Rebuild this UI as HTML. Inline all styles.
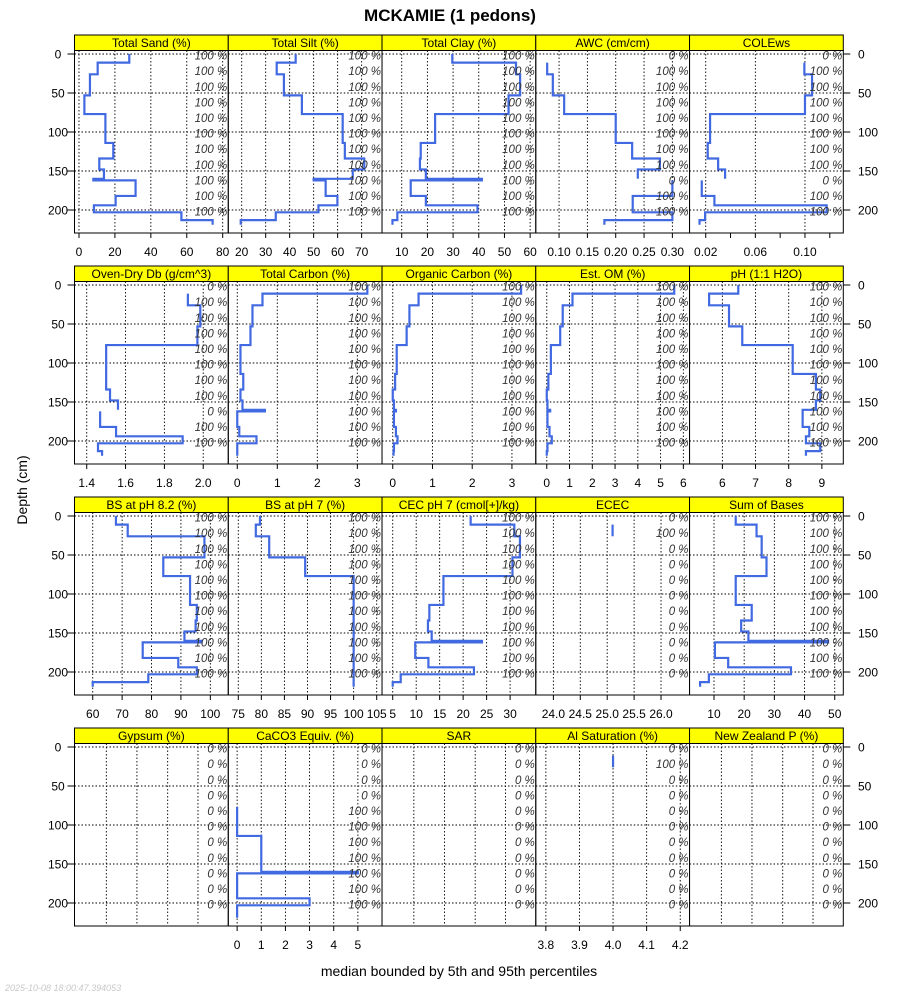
<!DOCTYPE html>
<html><head><meta charset="utf-8"><title>MCKAMIE (1 pedons)</title>
<style>
html,body{margin:0;padding:0;background:#fff;}
svg{display:block;font-family:"Liberation Sans",Arial,sans-serif;}
</style></head>
<body>
<svg id="chart" width="900" height="1000" viewBox="0 0 900 1000" xmlns="http://www.w3.org/2000/svg">
<rect x="0" y="0" width="900" height="1000" fill="#fff"/>
<text x="450" y="21" text-anchor="middle" font-size="17" font-weight="bold">MCKAMIE (1 pedons)</text>
<text transform="translate(27,490) rotate(-90)" text-anchor="middle" font-size="14">Depth (cm)</text>
<text x="459" y="976" text-anchor="middle" font-size="14">median bounded by 5th and 95th percentiles</text>
<text x="5" y="991" font-size="9" font-style="italic" fill="#c8c8c8">2025-10-08 18:00:47.394053</text>
<g id="panels"></g>
</svg>
<script>
// horizon depths (cm)
const tops    = [0,11,26,53,77,114,134,148,160,162,182,194,203,213];
const bottoms = [11,26,53,77,114,134,148,160,162,182,194,203,213,219];
const depthTicks = [0,50,100,150,200];
const pctDepths = [2,22,42,62,82,102,122,142,162,182,202];

const sand  = [28,10.4,6.1,3,14.7,19.1,11.3,13.9,8,31.5,20.4,8.3,57,74.4];
const silt  = [42.5,34.6,37.6,45.1,62.1,63,71.1,66.3,50,55,59.9,52,34.2,19.6];
const clay  = [29.7,54.5,56.1,51.6,23,17.4,17.1,19.4,41.2,13.5,19.4,39.5,8.3,6.4];
const awc   = [null,0.079,0.089,0.109,0.2,0.229,0.278,0.239,null,0.30,0.23,0.23,0.30,0.18];
const cole  = [null,0.0995,0.1057,0.1,0.0235,0.0216,0.030,0.0356,null,0.0168,0.027,0.1175,0.0195,0.015];
const db    = [null,1.921,1.985,1.97,1.5,1.5,1.52,1.561,null,1.469,1.551,1.894,1.458,1.479];
const tc    = [3.25,0.63,0.38,0.33,0.08,0.15,0.08,0.13,0.69,0.0,0.05,0.48,0.0,0.0];
const oc    = [3.23,0.65,0.42,0.35,0.1,0.06,0.0,0.03,0.08,0.03,0.08,0.12,0.03,0.02];
const om    = [5.6,1.13,0.7,0.59,0.18,0.07,0.0,0.03,0.15,0.03,0.12,0.22,0.03,0.0];
const ph    = [6.48,5.6,6.2,6.6,8.12,8.82,8.95,8.82,8.42,8.42,8.62,8.52,8.95,8.52];
const bs82  = [67.9,71.9,98,84,93.1,95.4,95,91.2,97,77,89.1,95.4,78.9,60];
const bs7   = [79.7,78.8,81.7,89.5,100,100,100,100,100,100,100,100,100,100];
const cec   = [21.6,30.9,32.1,30.5,15.8,12.8,12.5,13.3,24,9.8,12.6,22.3,6.7,5];
const ecec  = [null,25.1,null,null,null,null,null,null,null,null,null,null,null,null];
const sob   = [17.2,24.1,25.8,27.4,17.2,22.5,19,21.4,47.8,10.3,14.7,35.5,8.3,5.4];
const gyp   = [null,null,null,null,null,null,null,null,null,null,null,null,null,null];
const caco3 = [null,null,null,null,0,1,1,1,5,0,0,3,0,0];
const sar   = [null,null,null,null,null,null,null,null,null,null,null,null,null,null];
const alsat = [null,4.0,null,null,null,null,null,null,null,null,null,null,null,null];
const nzp   = [null,null,null,null,null,null,null,null,null,null,null,null,null,null];

const titles = ["Total Sand (%)","Total Silt (%)","Total Clay (%)","AWC (cm/cm)","COLEws",
 "Oven-Dry Db (g/cm^3)","Total Carbon (%)","Organic Carbon (%)","Est. OM (%)","pH (1:1 H2O)",
 "BS at pH 8.2 (%)","BS at pH 7 (%)","CEC pH 7 (cmol[+]/kg)","ECEC","Sum of Bases",
 "Gypsum (%)","CaCO3 Equiv. (%)","SAR","Al Saturation (%)","New Zealand P (%)"];
const series = [sand,silt,clay,awc,cole,db,tc,oc,om,ph,bs82,bs7,cec,ecec,sob,gyp,caco3,sar,alsat,nzp];
const domains = [[-2.5,83.1],[14.4,78.5],[2.33,62.2],[0.0589,0.3303],[0.00695,0.1309],
 [1.337,2.129],[-0.225,3.617],[-0.27,3.6],[-0.483,6.272],[5.01,9.646],
 [53.8,106.1],[72.83,106.15],[2.72,35.47],[23.673,26.53],[1.9,52.84],
 [0,1],[-0.367,6.0],[0,1],[3.770,4.2277],[0,1]];
const tickVals = [[0,20,40,60,80],[20,30,40,50,60,70],[10,20,30,40,50,60],[0.10,0.15,0.20,0.25,0.30],[0.02,0.04,0.06,0.08,0.10,0.12],
 [1.4,1.6,1.8,2.0],[0,1,2,3],[0,1,2,3],[0,1,2,3,4,5,6],[6,7,8,9],
 [60,70,80,90,100],[75,80,85,90,95,100,105],[5,10,15,20,25,30],[24.0,24.5,25.0,25.5,26.0],[10,20,30,40,50],
 [],[0,1,2,3,4,5],[],[3.8,3.9,4.0,4.1,4.2],[]];
const tickLabels = [["0","20","40","60","80"],["20","30","40","50","60","70"],["10","20","30","40","50","60"],["0.10","0.15","0.20","0.25","0.30"],["0.02","","0.06","","0.10",""],
 ["1.4","1.6","1.8","2.0"],["0","1","2","3"],["0","1","2","3"],["0","1","2","3","4","5","6"],["6","7","8","9"],
 ["60","70","80","90","100"],["75","80","85","90","95","100","105"],["5","10","15","20","25","30"],["24.0","24.5","25.0","25.5","26.0"],["10","20","30","40","50"],
 [],["0","1","2","3","4","5"],[],["3.8","3.9","4.0","4.1","4.2"],[]];
const emptyGrid = [0.207,0.406,0.606,0.803];
const pctLabels = [
 ["100","100","100","100","100","100","100","100","100","100","100"],
 ["100","100","100","100","100","100","100","100","100","100","100"],
 ["100","100","100","100","100","100","100","100","100","100","100"],
 ["0","100","100","100","100","100","100","100","0","100","100"],
 ["0","100","100","100","100","100","100","100","0","100","100"],
 ["0","100","100","100","100","100","100","100","0","100","100"],
 ["100","100","100","100","100","100","100","100","100","100","100"],
 ["100","100","100","100","100","100","100","100","100","100","100"],
 ["100","100","100","100","100","100","100","100","100","100","100"],
 ["100","100","100","100","100","100","100","100","100","100","100"],
 ["100","100","100","100","100","100","100","100","100","100","100"],
 ["100","100","100","100","100","100","100","100","100","100","100"],
 ["100","100","100","100","100","100","100","100","100","100","100"],
 ["0","100","0","0","0","0","0","0","0","0","0"],
 ["100","100","100","100","100","100","100","100","100","100","100"],
 ["0","0","0","0","0","0","0","0","0","0","0"],
 ["0","0","0","0","100","100","100","100","100","100","100"],
 ["0","0","0","0","0","0","0","0","0","0","0"],
 ["0","100","0","0","0","0","0","0","0","0","0"],
 ["0","0","0","0","0","0","0","0","0","0","0"]];

const NS = "http://www.w3.org/2000/svg";
const root = document.getElementById("panels");
const colLeft = 74.5, colW = 153.76, rowStep = 231, stripTop0 = 35, stripH = 15.5, panelH = 182.5;
const dMin = -4.5, dMax = 229.5;
function mk(tag, attrs, parent){ const e=document.createElementNS(NS,tag); for(const k in attrs) e.setAttribute(k,attrs[k]); parent.appendChild(e); return e; }
function slug(s){ return s.toLowerCase().replace(/[^a-z0-9]+/g,'-').replace(/^-|-$/g,''); }

for(let i=0;i<20;i++){
  const r=Math.floor(i/5), c=i%5;
  const L=colLeft+c*colW, R=L+colW;
  const sTop=stripTop0+r*rowStep, T=sTop+stripH, B=T+panelH;
  const dom=domains[i];
  const xs=v=>L+(v-dom[0])/(dom[1]-dom[0])*(R-L);
  const ys=d=>T+(d-dMin)/(dMax-dMin)*(B-T);
  const name=slug(titles[i]);
  const g=mk("g",{},root);
  
  
  // grid
  const gv = tickVals[i].length ? tickVals[i].map(xs) : (dom[0]===0&&dom[1]===1 ? emptyGrid.map(xs) : []);
  tickVals[i].forEach((v,k)=>{ if(tickLabels[i][k]==="" ) return; });
  const gridX = (tickVals[i].length? tickVals[i].filter((v,k)=>tickLabels[i][k]!=="").map(xs) : gv);
  gridX.forEach(x=>{ if(x>L+0.5&&x<R-0.5){ const ln=mk("line",{x1:x,x2:x,y1:T,y2:B,stroke:"#000","stroke-width":0.9,"stroke-dasharray":"1.5,2"},g);
    
     }});
  depthTicks.forEach(d=>{ const ln=mk("line",{x1:L,x2:R,y1:ys(d),y2:ys(d),stroke:"#000","stroke-width":0.9,"stroke-dasharray":"1.5,2"},g);
    
     });
  // series line
  const vals=series[i];
  let segs=[], cur=null;
  for(let h=0;h<vals.length;h++){
    const v=vals[h];
    if(v===null){ if(cur){segs.push(cur);cur=null;} continue; }
    if(!cur) cur=[];
    cur.push([xs(v),ys(tops[h])]); cur.push([xs(v),ys(bottoms[h])]);
  }
  if(cur) segs.push(cur);
  segs.forEach(s=>{
    let d="M"+s.map(p=>p[0].toFixed(2)+","+p[1].toFixed(2)).join("L");
    if(s.length===2 && Math.abs(s[1][1]-s[0][1])<1) d+="";
    const p=mk("path",{d:d,fill:"none",stroke:"#4169E1","stroke-width":2.2,"stroke-linejoin":"miter"},g);
    
    
  });
  // pct labels
  pctDepths.forEach((d,k)=>{
    const t=mk("text",{x:R-1,y:ys(d)+4,"text-anchor":"end","font-size":11.5,"font-style":"italic",fill:"#333"},g);
    t.textContent=pctLabels[i][k]+" %";
    
    
  });
  // frame
  const fr=mk("rect",{x:L,y:T,width:R-L,height:B-T,fill:"none",stroke:"#000","stroke-width":1},g);
  
  
  // strip
  const st=mk("rect",{x:L,y:sTop,width:R-L,height:stripH,fill:"#FFFF00",stroke:"#000","stroke-width":1},g);
  
  
  const stt=mk("text",{x:(L+R)/2,y:sTop+12,"text-anchor":"middle","font-size":12},g);
  stt.textContent=titles[i];
  
  
  // x ticks
  tickVals[i].forEach((v,k)=>{
    const x=xs(v);
    const tk=mk("line",{x1:x,x2:x,y1:B,y2:B+5,stroke:"#000","stroke-width":1},g);
    
    
    if(tickLabels[i][k]!==""){
      const tl=mk("text",{x:x,y:B+23,"text-anchor":"middle","font-size":12},g);
      tl.textContent=tickLabels[i][k];
      
      
    }
  });
  // y axes
  if(c===0||c===4){
    depthTicks.forEach(d=>{
      const y=ys(d);
      const left=(c===0);
      const tk=mk("line",{x1:left?L-7:R,x2:left?L:R+7,y1:y,y2:y,stroke:"#000","stroke-width":1},g);
      
      
      const tl=mk("text",{x:left?58:858,y:y+4.5,"text-anchor":left?"middle":"start","font-size":12},g);
      tl.textContent=String(d);
      
      
    });
  }
}
</script>
</body></html>
